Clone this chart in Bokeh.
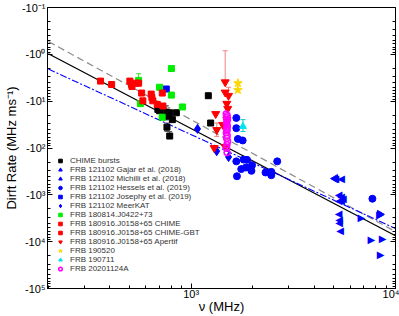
import math
from bokeh.plotting import figure
from bokeh.models import (Range1d, LogAxis, FixedTicker, CustomJSTickFormatter, Whisker,
                          ColumnDataSource, Legend, LegendItem)
from bokeh.core.properties import value
from bokeh.embed import file_html
from bokeh.resources import INLINE

# ---------------- data (frequency in MHz, |drift rate| in MHz/ms) ----------------
chime_nu = [687, 755, 769, 785, 809, 846, 761, 785, 1213, 1245, 700]
chime_dr = [15.0, 17.1, 20.9, 17.7, 24.8, 17.7, 35.9, 55.6, 7.65, 29.3, 16.0]
chime_err_nu = [755, 761, 785]
chime_err_lo = [12.5, 29.3, 44.5]
chime_err_hi = [25.2, 44.5, 62.0]

gajar_nu = [8375, 6808, 7624, 8650, 8453]
gajar_dr = [2612, 3040, 9036, 8470, 18580]

michilli_nu = [5070, 5420, 5260, 5420, 5520, 5260, 5420, 5260, 5300, 5300, 5360]
michilli_dr = [450, 450, 990, 1080, 1170, 1320, 1320, 2480, 3360, 3900, 5750]

hessels_nu = [1663, 1663, 1693, 1786, 1663, 1806, 1876, 1758, 1853, 1985, 1972,
              1675, 2311, 2466, 2466, 2637, 7708]
hessels_dr = [22.8, 37.7, 64.0, 68.9, 193, 177, 179, 282, 261, 234, 307,
              401, 333, 323, 381, 193, 1211]

josephy_nu = [755]
josephy_dr = [5.5]

meerkat_nu = [1074, 1333, 1524]
meerkat_dr = [39.1, 117, 156]

frb180814_nu = [553, 564, 700, 721, 800, 800, 906]
frb180814_dr = [3.60, 11.3, 5.05, 22.0, 2.01, 7.43, 13.3]
frb180814_err_nu = [553]
frb180814_err_lo = [2.59]
frb180814_err_hi = [3.60]

r3chime_nu = [501, 511, 537, 553, 513, 572, 580, 637, 642, 649, 682, 722, 727]
r3chime_dr = [3.73, 4.41, 4.13, 4.13, 4.87, 6.71, 9.84, 7.06, 8.34, 9.84, 11.7, 6.71, 12.7]

r3gbt_nu = [360, 408]
r3gbt_dr = [3.73, 4.41]

apertif_nu = [1467, 1467, 1523, 1494, 1510, 1318, 1334, 1428, 1494, 1295, 1467]
apertif_dr = [3.93, 6.49, 7.65, 11.3, 14.5, 18.7, 41.1, 31.9, 24.8, 99.5, 94.6]
apertif_err_nu = [1467, 1523, 1334]
apertif_err_lo = [0.84, 5.05, 29.3]
apertif_err_hi = [3.93, 7.65, 56.4]

frb190520_nu = [1693, 1693]
frb190520_dr = [4.13, 5.78]

frb190711_nu = [1792]
frb190711_dr = [34.6]
frb190711_err_lo = [24.8]
frb190711_err_hi = [44.5]

frb20201124_nu = [1485, 1500, 1490, 1505, 1495, 1488, 1502, 1493, 1498, 1487, 1500,
                  1492, 1506, 1496, 1490, 1499]
frb20201124_dr = [18.7, 20.5, 22.5, 25.0, 27.5, 30.5, 34.0, 38.0, 42.0, 47.0, 54.0,
                  62.0, 72.0, 85.0, 100.0, 125.0]

# fitted power laws, values at 200 MHz and 10^4 MHz
fit_nu = [200, 10000]
fit_gray = [0.532, 6120]
fit_black = [0.973, 7480]
fit_blue = [2.06, 5250]

# tick positions
x_major = [1000, 10000]
y_major = [0.1, 1, 10, 100, 1000, 10000, 100000]

x_label = "ν (MHz)"
y_label = "Dirft Rate (MHz ms⁻¹)"

# ---------------- figure ----------------
FONT = "Liberation Sans"
x_minor = [m * 10 ** d for d in (2, 3) for m in range(2, 10)]
y_minor = [m * 10 ** d for d in range(-1, 5) for m in range(2, 10)]

p = figure(width=399, height=316, x_axis_type="log", y_axis_type="log",
           x_range=Range1d(198, 10000), y_range=Range1d(1e5, 1e-1),
           output_backend="svg", toolbar_location=None,
           min_border_top=7, min_border_right=4, min_border_left=0, min_border_bottom=0)
p.background_fill_color = "white"
p.border_fill_color = "white"
p.outline_line_color = "black"
p.outline_line_width = 1
p.xgrid.visible = False
p.ygrid.visible = False

sup = "const m={'-1':'⁻¹','0':'⁰','1':'¹','2':'²','3':'³','4':'⁴','5':'⁵'};const e=Math.round(Math.log10(tick));"
p.yaxis.formatter = CustomJSTickFormatter(code=sup + "return '-10'+(m[String(e)]||e);")
p.xaxis.formatter = CustomJSTickFormatter(code=sup + "return '10'+(m[String(e)]||e);")
p.xaxis.ticker = FixedTicker(ticks=x_major, minor_ticks=x_minor)
p.yaxis.ticker = FixedTicker(ticks=y_major, minor_ticks=y_minor)

for ax in (p.xaxis[0], p.yaxis[0]):
    ax.major_tick_in = 5
    ax.major_tick_out = 0
    ax.minor_tick_in = 3
    ax.minor_tick_out = 0
    ax.axis_line_color = "black"
    ax.major_label_text_font = FONT
    ax.major_label_text_font_size = "11px"
    ax.major_label_text_color = "black"
    ax.axis_label_text_font = FONT
    ax.axis_label_text_font_size = "13px"
    ax.axis_label_text_font_style = "normal"
    ax.axis_label_text_color = "black"

p.yaxis.major_label_standoff = 2
p.yaxis.axis_label_standoff = 0
p.xaxis.major_label_standoff = -1
p.xaxis.axis_label_standoff = -4

p.xaxis.axis_label = x_label
p.yaxis.axis_label = y_label

ra = LogAxis(ticker=FixedTicker(ticks=y_major, minor_ticks=y_minor),
             formatter=CustomJSTickFormatter(code="return '';"),
             major_tick_in=5, major_tick_out=0, minor_tick_in=3, minor_tick_out=0,
             major_label_standoff=0, axis_line_color="black")
p.add_layout(ra, "right")

# fit lines
p.line(fit_nu, fit_gray, line_color="#8c8c8c", line_dash="7 4", line_width=1.2)
p.line(fit_nu, fit_black, line_color="black", line_width=1.3)
p.line(fit_nu, fit_blue, line_color="#0000ff", line_dash="7 2 2 2", line_width=1.1)


def whisk(nus, lo, hi, color):
    src = ColumnDataSource(dict(x=nus, lo=lo, hi=hi))
    w = Whisker(base="x", lower="lo", upper="hi", source=src, line_color=color, line_width=1)
    w.upper_head.size = 5
    w.lower_head.size = 5
    w.upper_head.line_color = color
    w.lower_head.line_color = color
    p.add_layout(w)


whisk(chime_err_nu, chime_err_lo, chime_err_hi, "#555555")
whisk(apertif_err_nu, apertif_err_lo, apertif_err_hi, "#f08080")
whisk(frb180814_err_nu, frb180814_err_lo, frb180814_err_hi, "#33dd33")
whisk(frb190711_nu, frb190711_err_lo, frb190711_err_hi, "#00cccc")

items = []


def sc(nus, drs, label, marker, color, size, fill=True, lw=1.0):
    r = p.scatter(nus, drs, marker=marker, size=size,
                  fill_color=color if fill else None, line_color=color, line_width=lw)
    items.append(LegendItem(label=label, renderers=[r]))
    return r


def tri(nus, drs, label, char, angle):
    # sideways triangles drawn as text characters at the data points
    p.text(nus, drs, text=[char] * len(nus), text_align="center", text_baseline="middle",
           text_color="#0000ff", text_font=value("DejaVu Sans"), text_font_size="10px")
    # rotated marker on the first point of the series, used for the legend glyph
    r = p.scatter(nus[:1], drs[:1], marker="triangle", size=8, angle=angle,
                  fill_color="#0000ff", line_color="#0000ff")
    items.append(LegendItem(label=label, renderers=[r]))


sc(chime_nu, chime_dr, "CHIME bursts", "square", "black", 6)
tri(gajar_nu, gajar_dr, "FRB 121102 Gajar et al. (2018)", "▶", -math.pi / 2)
tri(michilli_nu, michilli_dr, "FRB 121102 Michilli et al. (2018)", "◀", math.pi / 2)
sc(hessels_nu, hessels_dr, "FRB 121102 Hessels et al. (2019)", "circle", "#0000ff", 7)
sc(josephy_nu, josephy_dr, "FRB 121102 Josephy et al. (2019)", "square", "#0000ff", 6)
sc(meerkat_nu, meerkat_dr, "FRB 121102 MeerKAT", "diamond", "#0000ff", 9)
sc(frb180814_nu, frb180814_dr, "FRB 180814.J0422+73", "square", "#00ee00", 6)
sc(r3chime_nu, r3chime_dr, "FRB 180916.J0158+65 CHIME", "square", "#ff0000", 6)
sc(r3gbt_nu, r3gbt_dr, "FRB 180916.J0158+65 CHIME-GBT", "square", "#ff0000", 6)
sc(apertif_nu, apertif_dr, "FRB 180916.J0158+65 Apertif", "inverted_triangle", "#ff0000", 8)
sc(frb190520_nu, frb190520_dr, "FRB 190520", "star", "#ffd700", 9)
sc(frb190711_nu, frb190711_dr, "FRB 190711", "triangle", "#00e5ee", 7)
sc(frb20201124_nu, frb20201124_dr, "FRB 20201124A", "circle", "#ff00ff", 6, fill=False, lw=1.5)

legend = Legend(items=items, location=(6, 13))
legend.label_text_font = FONT
legend.label_text_font_size = "8px"
legend.label_text_color = "#333333"
legend.label_height = 9
legend.glyph_height = 9
legend.glyph_width = 10
legend.spacing = 0
legend.padding = 2
legend.margin = 0
legend.label_standoff = 5
legend.border_line_alpha = 0
legend.background_fill_alpha = 0
p.add_layout(legend)

open("out.html", "w").write(file_html(p, INLINE))
